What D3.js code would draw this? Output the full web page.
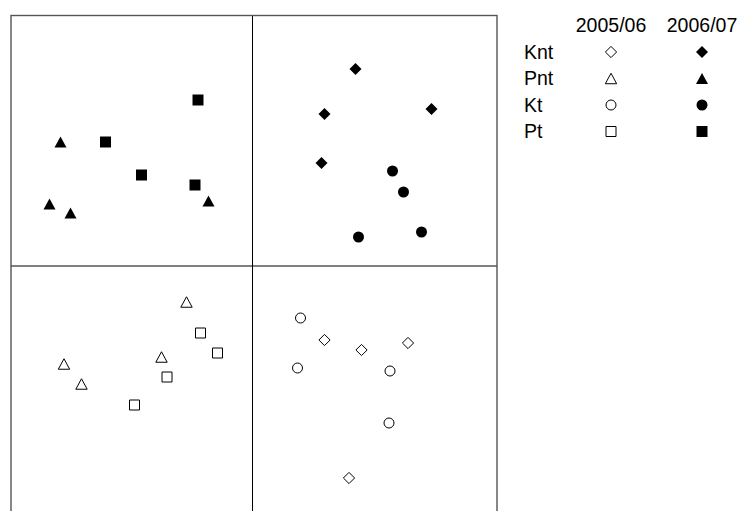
<!DOCTYPE html>
<html>
<head>
<meta charset="utf-8">
<script src="https://cdn.jsdelivr.net/npm/d3@7"></script>
<style>
  html, body { margin: 0; padding: 0; background: #fff; }
  svg { display: block; }
  text { font-family: "Liberation Sans", Arial, sans-serif; fill: #000; }
</style>
</head>
<body>
<svg id="chart" width="739" height="511"></svg>
<script>
// Ordination scores (axis 1, axis 2) by group and season
const groups = ["Knt", "Pnt", "Kt", "Pt"];
const seasons = ["2005/06", "2006/07"];

const knt0506 = [[0.72, -0.74], [1.09, -0.84], [1.555, -0.77], [0.965, -2.12]];
const pnt0506 = [[-0.66, -0.36], [-0.91, -0.91], [-1.885, -0.98], [-1.71, -1.18]];
const kt0506  = [[0.48, -0.52], [0.45, -1.02], [1.375, -1.05], [1.365, -1.57]];
const pt0506  = [[-0.52, -0.67], [-0.35, -0.87], [-0.855, -1.11], [-1.18, -1.39]];

const knt0607 = [[1.03, 1.97], [0.72, 1.52], [1.79, 1.57], [0.69, 1.03]];
const pnt0607 = [[-1.92, 1.24], [-2.03, 0.62], [-1.82, 0.53], [-0.44, 0.65]];
const kt0607  = [[1.40, 0.95], [1.51, 0.74], [1.06, 0.29], [1.69, 0.34]];
const pt0607  = [[-0.545, 1.66], [-1.47, 1.24], [-1.11, 0.91], [-0.575, 0.81]];

const xDomain = [-2.415, 2.445];
const yDomain = [-2.51, 2.505];

const series = [
  { group: "Knt", season: "2005/06", pts: knt0506 },
  { group: "Pnt", season: "2005/06", pts: pnt0506 },
  { group: "Kt",  season: "2005/06", pts: kt0506 },
  { group: "Pt",  season: "2005/06", pts: pt0506 },
  { group: "Knt", season: "2006/07", pts: knt0607 },
  { group: "Pnt", season: "2006/07", pts: pnt0607 },
  { group: "Kt",  season: "2006/07", pts: kt0607 },
  { group: "Pt",  season: "2006/07", pts: pt0607 }
];

const svg = d3.select("#chart");
const plot = { left: 11, right: 497, top: 15.5, bottom: 517 };

const x = d3.scaleLinear().domain(xDomain).range([plot.left, plot.right]);
const y = d3.scaleLinear().domain(yDomain).range([plot.bottom, plot.top]);

// marker outlines, centred on (0,0)
function circlePath(r) {
  const p = d3.path();
  p.moveTo(r, 0);
  p.arc(0, 0, r, 0, 2 * Math.PI);
  p.closePath();
  return p.toString();
}
const shapes = {
  Knt: s => `M0,${-s}L${s},0L0,${s}L${-s},0Z`,
  Pnt: s => { const h = s * 0.92; return `M0,${-h}L${s},${h}L${-s},${h}Z`; },
  Kt:  s => circlePath(s),
  Pt:  s => `M${-s},${-s}H${s}V${s}H${-s}Z`
};
const sizes = {
  "2005/06": { Knt: 5.6, Pnt: 5.7, Kt: 5.0, Pt: 5.0 },
  "2006/07": { Knt: 6.0, Pnt: 6.0, Kt: 5.5, Pt: 5.5 }
};
function styleMarker(sel, season) {
  if (season === "2005/06") {
    sel.attr("fill", "#fff").attr("stroke", "#000").attr("stroke-width", 1);
  } else {
    sel.attr("fill", "#000").attr("stroke", "none");
  }
}

// zero axes
svg.append("line")
  .attr("x1", x(0)).attr("x2", x(0))
  .attr("y1", plot.top).attr("y2", plot.bottom)
  .attr("stroke", "#000").attr("stroke-width", 1);
svg.append("line")
  .attr("x1", plot.left).attr("x2", plot.right)
  .attr("y1", y(0)).attr("y2", y(0))
  .attr("stroke", "#000").attr("stroke-width", 1);

// frame
svg.append("rect")
  .attr("x", plot.left).attr("y", plot.top)
  .attr("width", plot.right - plot.left).attr("height", plot.bottom - plot.top)
  .attr("fill", "none").attr("stroke", "#555").attr("stroke-width", 1.4);

// points
series.forEach(s => {
  svg.append("g")
    .selectAll("path").data(s.pts).join("path")
    .attr("d", shapes[s.group](sizes[s.season][s.group]))
    .attr("transform", d => `translate(${x(d[0])},${y(d[1])})`)
    .call(styleMarker, s.season);
});

// legend
const legend = svg.append("g");
const colX = [611, 702];
const labelX = 524;
const headY = 25;
const rowY = d3.scalePoint().domain(groups).range([52, 131.5]);
const fontSize = 19.5;

legend.selectAll("text.head").data(seasons).join("text")
  .attr("class", "head")
  .attr("x", (d, i) => colX[i]).attr("y", headY)
  .attr("dy", "0.35em")
  .attr("text-anchor", "middle")
  .attr("font-size", fontSize)
  .text(d => d);

legend.selectAll("text.row").data(groups).join("text")
  .attr("class", "row")
  .attr("x", labelX).attr("y", d => rowY(d))
  .attr("dy", "0.35em")
  .attr("font-size", fontSize)
  .text(d => d);

seasons.forEach((season, i) => {
  legend.append("g")
    .selectAll("path").data(groups).join("path")
    .attr("d", gname => shapes[gname](sizes[season][gname]))
    .attr("transform", gname => `translate(${colX[i]},${rowY(gname)})`)
    .call(styleMarker, season);
});
</script>
</body>
</html>
